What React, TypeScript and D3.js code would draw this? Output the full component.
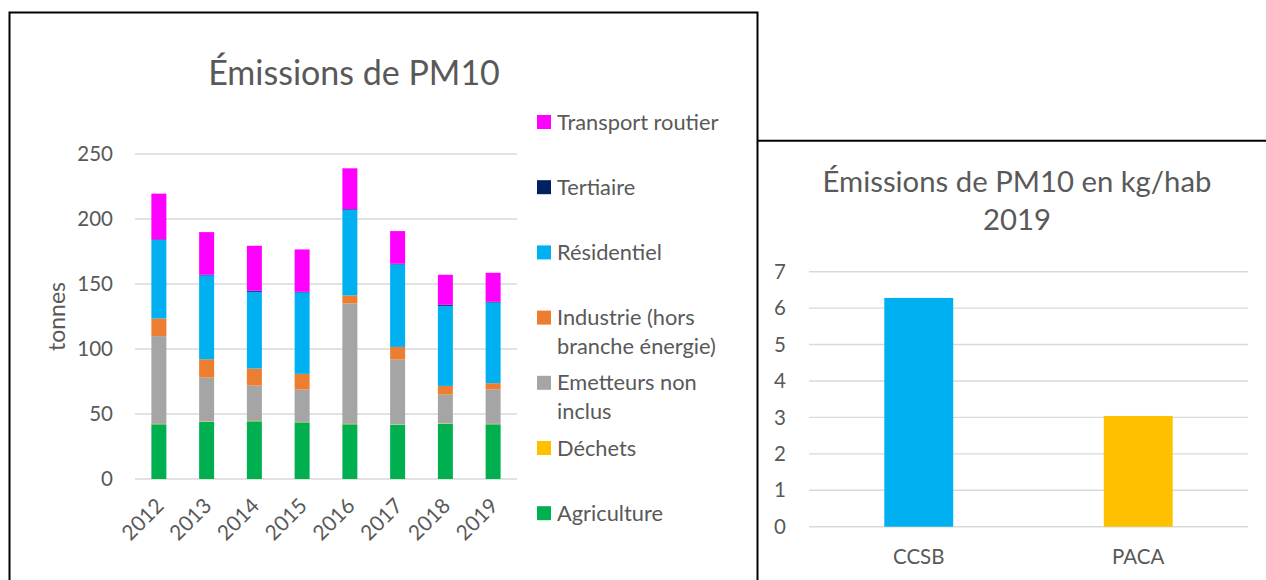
import React from "react";
import * as d3 from "d3";

const years = ["2012", "2013", "2014", "2015", "2016", "2017", "2018", "2019"];
const agriculture = [42.1, 43.9, 44.4, 43.6, 42.1, 41.6, 42.4, 42.1];
const dechets = [0.3, 0.3, 0.3, 0.3, 0.3, 0.3, 0.3, 0.3];
const emetteurs = [67.5, 33.8, 27.2, 24.9, 92.6, 50.0, 22.2, 26.4];
const industrie = [13.6, 14.1, 13.1, 12.1, 6.2, 9.7, 6.7, 4.9];
const residentiel = [60.3, 64.5, 59.0, 62.6, 65.9, 63.5, 61.6, 62.1];
const tertiaire = [0.5, 0.5, 0.8, 0.5, 0.5, 0.5, 0.8, 0.5];
const transport = [35.2, 32.8, 34.6, 32.6, 31.4, 25.1, 23.1, 22.3];
const leftTicks = [0, 50, 100, 150, 200, 250];

const regions = ["CCSB", "PACA"];
const perHab = [6.28, 3.04];
const rightTicks = [0, 1, 2, 3, 4, 5, 6, 7];

const series = [
  { key: "agriculture", label: ["Agriculture"], color: "#00B050", values: agriculture },
  { key: "dechets", label: ["Déchets"], color: "#FFC000", values: dechets },
  { key: "emetteurs", label: ["Emetteurs non", "inclus"], color: "#A5A5A5", values: emetteurs },
  { key: "industrie", label: ["Industrie (hors", "branche énergie)"], color: "#ED7D31", values: industrie },
  { key: "residentiel", label: ["Résidentiel"], color: "#00B0F0", values: residentiel },
  { key: "tertiaire", label: ["Tertiaire"], color: "#002060", values: tertiaire },
  { key: "transport", label: ["Transport routier"], color: "#FF00FF", values: transport },
];

const FONT = "Lato, 'Open Sans', sans-serif";
const TXT = "#595959";
const GRID = "#D9D9D9";

export default function App() {
  // Left chart
  const L = { x0: 135, x1: 517, y0: 479, y1: 154 };
  const xL = d3.scaleBand<string>().domain(years).range([L.x0, L.x1]).padding(0);
  const yL = d3.scaleLinear().domain([0, 250]).range([L.y0, L.y1]);
  const rows = years.map((y, i) => {
    const r: any = { year: y };
    series.forEach((s) => (r[s.key] = s.values[i]));
    return r;
  });
  const stacked = d3.stack<any>().keys(series.map((s) => s.key))(rows);
  const barFrac = 0.314;
  const bwL = xL.bandwidth() * barFrac;

  // Right chart
  const R = { x0: 809, x1: 1248, y0: 526.7, y1: 271.7 };
  const xR = d3.scaleBand<string>().domain(regions).range([R.x0, R.x1]).padding(0);
  const yR = d3.scaleLinear().domain([0, 7]).range([R.y0, R.y1]);
  const bwR = xR.bandwidth() * barFrac;
  const rColors = ["#00B0F0", "#FFC000"];

  const legendItems = [...series].reverse();

  return (
    <svg
      width={1266}
      height={580}
      style={{ position: "absolute", left: 0, top: 0, display: "block", background: "#fff" }}
      fontFamily={FONT}
    >
      <rect x={0} y={0} width={1266} height={580} fill="#fff" />
      {/* frames */}
      <rect x={9.5} y={12.5} width={748} height={600} fill="none" stroke="#000" strokeWidth={2} />
      <line x1={757.5} x2={1270} y1={140.7} y2={140.7} stroke="#000" strokeWidth={2} />

      {/* Left title */}
      <text x={354} y={85} textAnchor="middle" fontSize={34} fill={TXT}>
        Émissions de PM10
      </text>

      {/* grid */}
      {leftTicks.map((t) => (
        <g key={t}>
          <line x1={L.x0} x2={L.x1} y1={yL(t)} y2={yL(t)} stroke={GRID} strokeWidth={1.4} />
          <text x={113} y={yL(t)} dy="0.35em" textAnchor="end" fontSize={20.5} fill={TXT}>
            {t}
          </text>
        </g>
      ))}

      {/* stacked bars */}
      {stacked.map((layer, li) => (
        <g key={layer.key} fill={series[li].color}>
          {layer.map((d, i) => (
            <rect
              key={i}
              x={(xL(years[i]) as number) + (xL.bandwidth() - bwL) / 2}
              y={yL(d[1])}
              width={bwL}
              height={Math.max(0, yL(d[0]) - yL(d[1]))}
            />
          ))}
        </g>
      ))}

      {/* x labels */}
      {years.map((y) => {
        const cx = (xL(y) as number) + xL.bandwidth() / 2;
        return (
          <text
            key={y}
            transform={`translate(${cx + 1},${502}) rotate(-45)`}
            textAnchor="end"
            dy="0.35em"
            fontSize={21}
            fill={TXT}
          >
            {y}
          </text>
        );
      })}

      {/* y axis title */}
      <text transform={`translate(57,${(L.y0 + L.y1) / 2}) rotate(-90)`} textAnchor="middle" dy="0.35em" fontSize={23} fill={TXT}>
        tonnes
      </text>

      {/* legend */}
      {legendItems.map((s, i) => {
        const cy = 122 + i * 65.2;
        return (
          <g key={s.key}>
            <rect x={537} y={cy - 7} width={14} height={14} fill={s.color} />
            {s.label.map((ln, j) => (
              <text key={j} x={557} y={cy + j * 28.5} dy="0.35em" fontSize={21.8} fill={TXT}>
                {ln}
              </text>
            ))}
          </g>
        );
      })}

      {/* Right chart */}
      <text x={1017} y={182} dy="0.35em" textAnchor="middle" fontSize={29.3} fill={TXT}>
        Émissions de PM10 en kg/hab
      </text>
      <text x={1017} y={220} dy="0.35em" textAnchor="middle" fontSize={29.3} fill={TXT}>
        2019
      </text>
      {rightTicks.map((t) => (
        <g key={t}>
          <line x1={R.x0} x2={R.x1} y1={yR(t)} y2={yR(t)} stroke={GRID} strokeWidth={1.4} />
          <text x={786} y={yR(t)} dy="0.35em" textAnchor="end" fontSize={20.5} fill={TXT}>
            {t}
          </text>
        </g>
      ))}
      {regions.map((r, i) => (
        <rect
          key={r}
          x={(xR(r) as number) + (xR.bandwidth() - bwR) / 2}
          y={yR(perHab[i])}
          width={bwR}
          height={yR(0) - yR(perHab[i])}
          fill={rColors[i]}
        />
      ))}
      {regions.map((r) => (
        <text
          key={r}
          x={(xR(r) as number) + xR.bandwidth() / 2}
          y={557}
          dy="0.35em"
          textAnchor="middle"
          fontSize={20.5}
          fill={TXT}
        >
          {r}
        </text>
      ))}
    </svg>
  );
}
